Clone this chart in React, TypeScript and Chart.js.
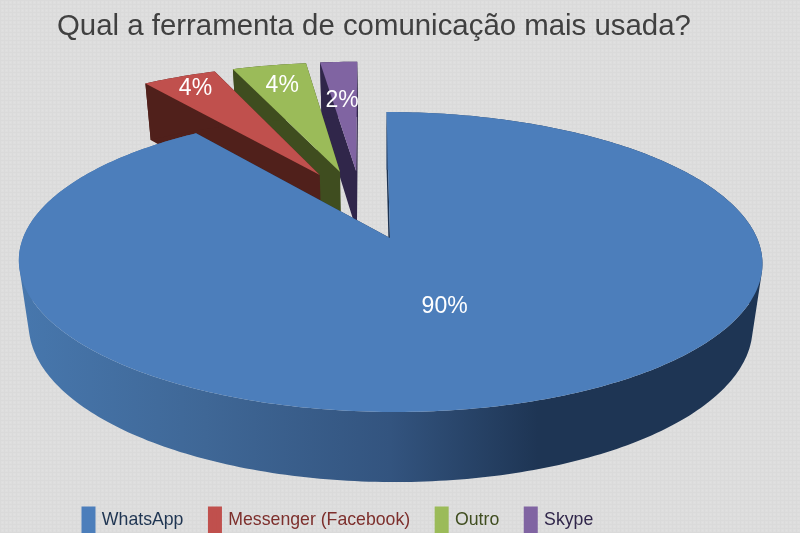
import React, { useEffect, useRef } from "react";
import { Chart, registerables } from "chart.js";

Chart.register(...registerables);

const categories = ["WhatsApp", "Messenger (Facebook)", "Outro", "Skype"];
const values = [90, 4, 4, 2];
const percentLabels = ["90%", "4%", "4%", "2%"];
const topColors = ["#4c7ebb", "#c0504d", "#9bbb59", "#8064a2"];
const wallColors = ["#1d3352", "#50201b", "#3f4d1f", "#30264a"];
const legendTextColors = ["#1f3552", "#7d2f2c", "#3f4d1f", "#30264a"];
const labelRadii = [0.45, 0.88, 0.81, 0.6];
const labelNudgeX = [-2, 1, 1, -3];
const labelNudgeY = [2, 1, 2, -1];

// Perspective camera for the disc
const CX = 390, CY = 238, SX = 367, SY = 146.16, PERSP = 0.16, SKEW = 4;
const DEPTH_W = 0.0265, DEPTH_Y = 65.3, EXPLODE = 0.2536;

type Pt = [number, number];

const project = (u: number, v: number, h: number): Pt => {
  const w = 1 - PERSP * v + DEPTH_W * h;
  return [CX + (SX * u + SKEW * v) / w, CY + (SY * v + DEPTH_Y * h) / w];
};

const fillPolys = (ctx: CanvasRenderingContext2D, polys: Pt[][], fill: any) => {
  ctx.beginPath();
  polys.forEach((poly) => {
    let area = 0;
    poly.forEach((p, i) => {
      const q = poly[(i + 1) % poly.length];
      area += p[0] * q[1] - q[0] * p[1];
    });
    const pts = area < 0 ? poly.slice().reverse() : poly;
    pts.forEach((p, i) => (i ? ctx.lineTo(p[0], p[1]) : ctx.moveTo(p[0], p[1])));
    ctx.closePath();
  });
  ctx.fillStyle = fill;
  ctx.fill();
};

const texturePlugin = {
  id: "texture",
  beforeDraw(chart: any) {
    const t = document.createElement("canvas");
    t.width = 4;
    t.height = 4;
    const c = t.getContext("2d")!;
    c.fillStyle = "#dedede";
    c.fillRect(0, 0, 4, 4);
    c.fillStyle = "#dadada";
    c.fillRect(0, 0, 4, 1);
    c.fillRect(0, 0, 1, 4);
    c.fillStyle = "#e1e1e1";
    c.fillRect(2, 2, 1, 1);
    const ctx = chart.ctx;
    ctx.save();
    ctx.fillStyle = ctx.createPattern(t, "repeat");
    ctx.fillRect(0, 0, chart.width, chart.height);
    ctx.restore();
  },
};

const pie3dPlugin = {
  id: "pie3d",
  beforeDatasetsDraw(chart: any) {
    const ctx: CanvasRenderingContext2D = chart.ctx;
    const arcs = chart.getDatasetMeta(0).data;
    const blueMid = (arcs[0].startAngle + arcs[0].endAngle) / 2;
    const ox = EXPLODE * Math.cos(blueMid);
    const oy = EXPLODE * Math.sin(blueMid);
    const grad = ctx.createLinearGradient(20, 0, 760, 0);
    grad.addColorStop(0, "#4777ad");
    grad.addColorStop(0.25, "#3f6796");
    grad.addColorStop(0.5, "#33547f");
    grad.addColorStop(0.7, "#1e3554");
    grad.addColorStop(1, "#1e3554");
    ctx.save();
    for (let i = arcs.length - 1; i >= 0; i--) {
      const a = arcs[i];
      const mid = (a.startAngle + a.endAngle) / 2;
      const au = EXPLODE * Math.cos(mid) - ox;
      const av = EXPLODE * Math.sin(mid) - oy;
      const n = Math.max(8, Math.round((a.endAngle - a.startAngle) * 60));
      const rim = (h: number) => {
        const pts: Pt[] = [];
        for (let k = 0; k <= n; k++) {
          const t = a.startAngle + ((a.endAngle - a.startAngle) * k) / n;
          pts.push(project(au + Math.cos(t), av + Math.sin(t), h));
        }
        return pts;
      };
      const top = rim(0);
      const bottom = rim(1);
      const apexTop = project(au, av, 0);
      const apexBottom = project(au, av, 1);
      fillPolys(
        ctx,
        [
          [apexTop, top[0], bottom[0], apexBottom],
          [apexTop, top[n], bottom[n], apexBottom],
        ],
        wallColors[i]
      );
      const strips: Pt[][] = [];
      for (let k = 0; k < n; k++) {
        strips.push([top[k], top[k + 1], bottom[k + 1], bottom[k]]);
      }
      fillPolys(ctx, strips, i === 0 ? grad : wallColors[i]);
      fillPolys(ctx, [[apexTop, ...top]], a.options.backgroundColor);
    }
    ctx.fillStyle = "#ffffff";
    ctx.font = '23px "Liberation Sans"';
    ctx.textAlign = "center";
    ctx.textBaseline = "middle";
    arcs.forEach((a: any, i: number) => {
      const mid = (a.startAngle + a.endAngle) / 2;
      const au = EXPLODE * Math.cos(mid) - ox;
      const av = EXPLODE * Math.sin(mid) - oy;
      const p = project(au + labelRadii[i] * Math.cos(mid), av + labelRadii[i] * Math.sin(mid), 0);
      ctx.fillText(percentLabels[i], p[0] + labelNudgeX[i], p[1] + labelNudgeY[i]);
    });
    ctx.restore();
    return false;
  },
};

export default function App() {
  const ref = useRef<HTMLCanvasElement>(null);
  useEffect(() => {
    document.body.style.margin = "0";
    const chart = new Chart(ref.current!, {
      type: "pie",
      data: {
        labels: categories,
        datasets: [{ data: values, backgroundColor: topColors, borderWidth: 0 }],
      },
      plugins: [texturePlugin, pie3dPlugin],
      options: {
        responsive: false,
        animation: false,
        layout: { padding: { left: 57, bottom: -9 } },
        plugins: {
          tooltip: { enabled: false },
          title: {
            display: true,
            text: "Qual a ferramenta de comunicação mais usada?",
            align: "start",
            color: "#404040",
            font: { family: '"Liberation Sans"', size: 29.4, weight: "normal" },
            padding: { top: 9, bottom: 7 },
          },
          legend: {
            position: "bottom",
            align: "start",
            labels: {
              boxWidth: 9,
              boxHeight: 23,
              padding: 27,
              font: { family: '"Liberation Sans"', size: 17.7 },
              generateLabels: () =>
                categories.map((text, i) => ({
                  text,
                  fillStyle: topColors[i],
                  strokeStyle: topColors[i],
                  lineWidth: 5,
                  fontColor: legendTextColors[i],
                  hidden: false,
                  index: i,
                })),
            },
          },
        },
      },
    });
    return () => chart.destroy();
  }, []);
  return <canvas ref={ref} width={800} height={533} style={{ display: "block" }} />;
}
